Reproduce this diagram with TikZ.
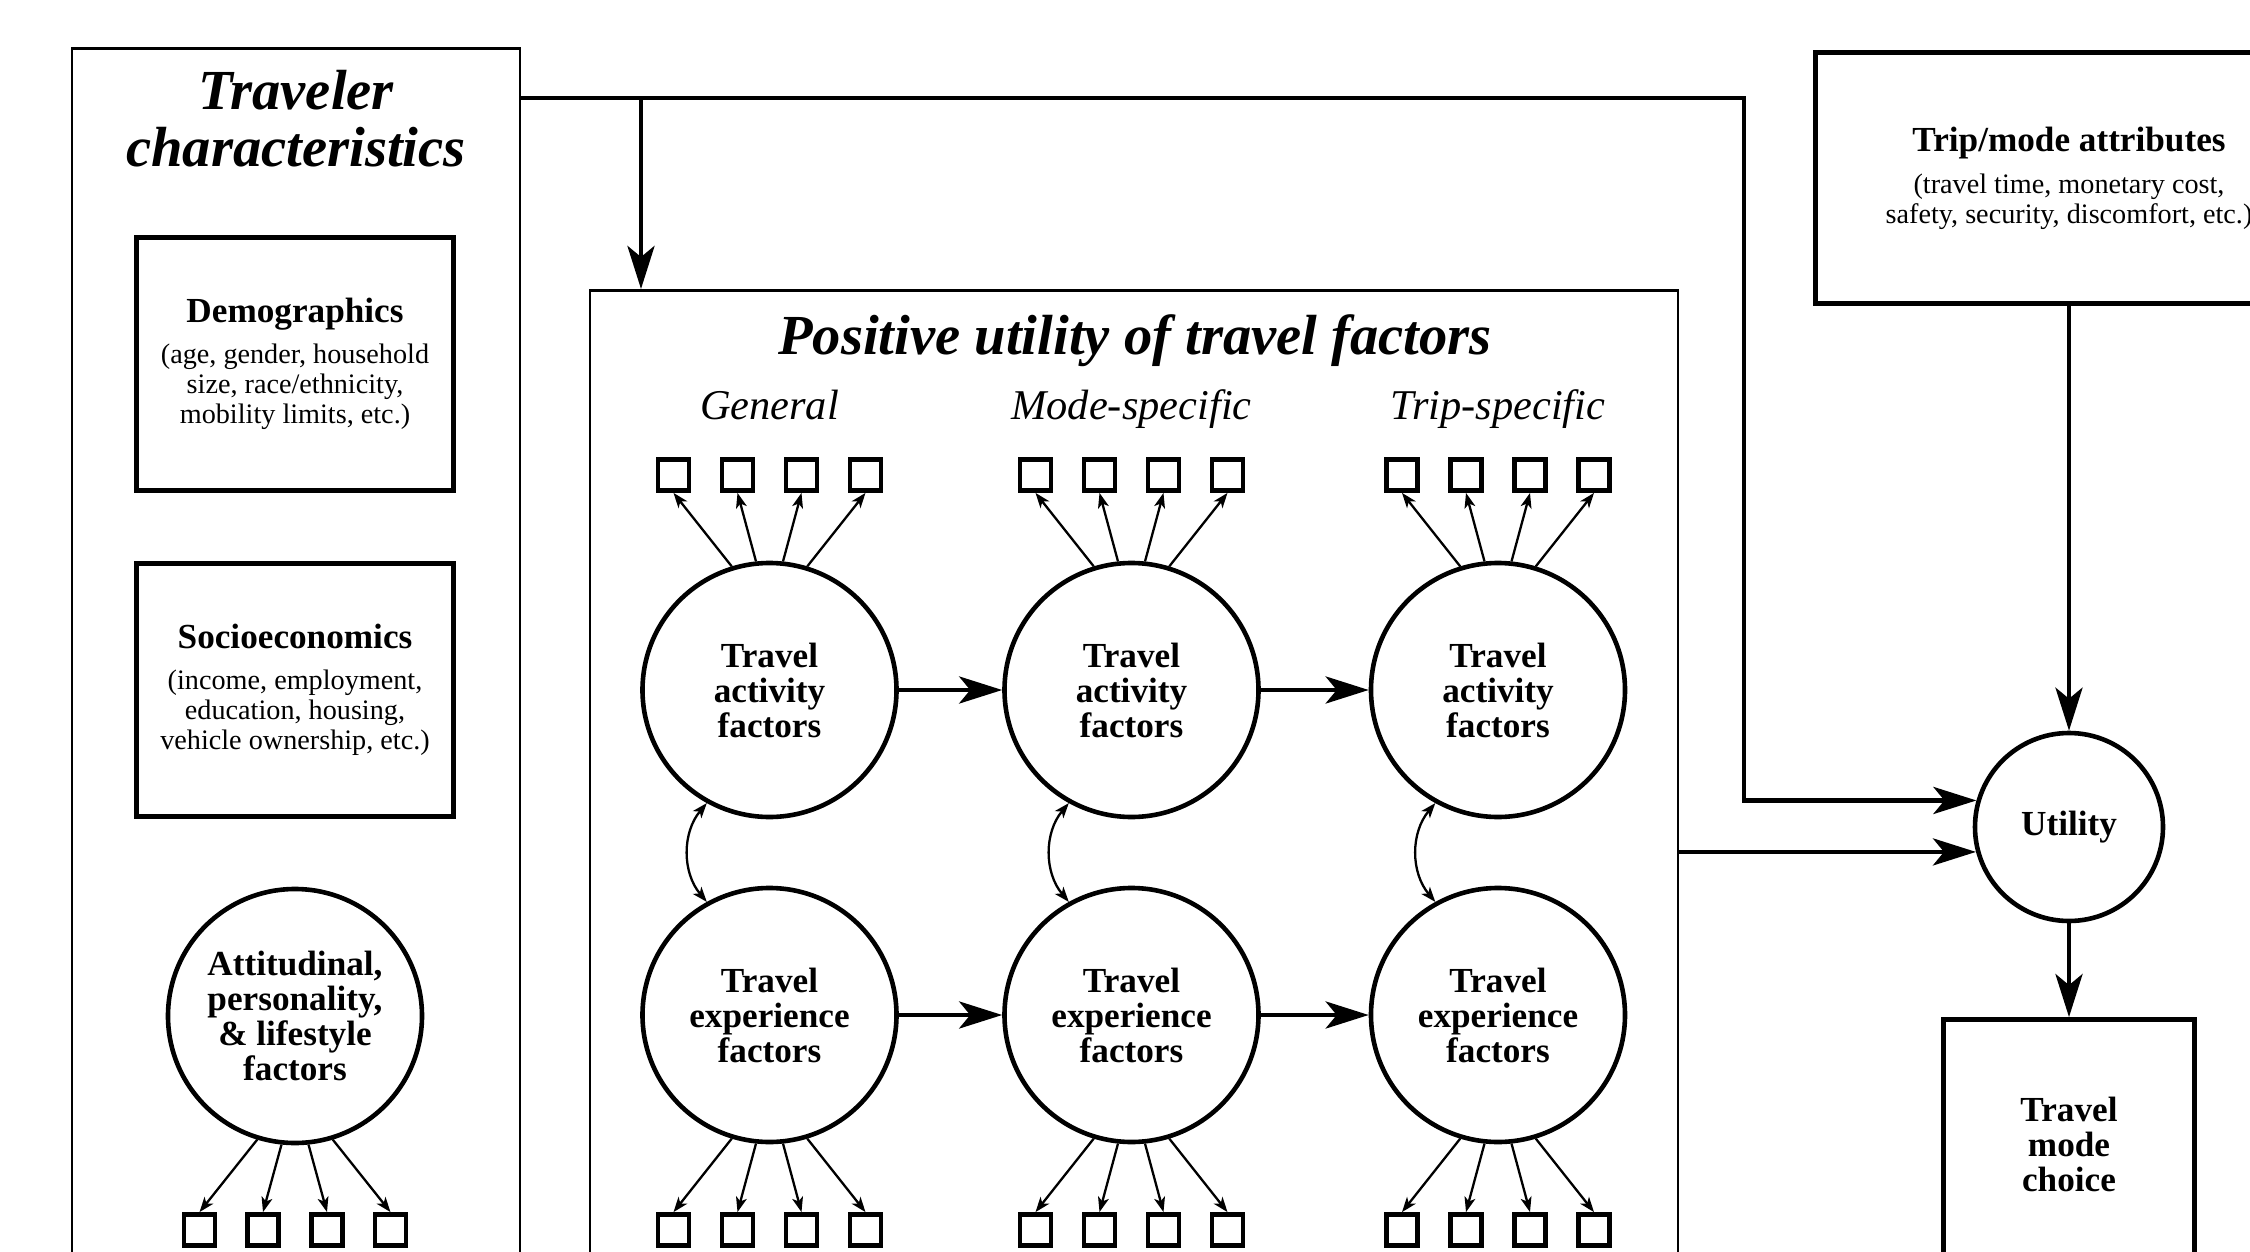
\documentclass[tikz,border=0pt]{standalone}
\usepackage{fontspec}
\setmainfont{Liberation Serif}
\usetikzlibrary{arrows.meta}
\newcommand\fbigtitle{\fontsize{28.3}{28.5}\selectfont\bfseries\itshape}
\newcommand\fsubhead{\fontsize{21.2}{22}\selectfont\itshape}
\newcommand\flabel{\fontsize{17.6}{17.5}\selectfont\bfseries}
\newcommand\fdescr{\fontsize{14.1}{14.8}\selectfont}
\begin{document}
\begin{tikzpicture}[x=0.5pt,y=-0.5pt,
  outerbox/.style={draw, line width=1.3pt, inner sep=0pt},
  infobox/.style={draw, line width=2.4pt, inner sep=0pt, align=center},
  latent/.style={circle, draw, line width=2.3pt, minimum size=127pt, inner sep=0pt, align=center, font=\flabel},
  indsq/.style={draw, line width=2.4pt, minimum size=15.5pt, inner sep=0pt},
  loadarrow/.style={line width=1.15pt, -{Stealth[length=7.5pt,width=5.5pt,inset=2pt]}},
  corrarrow/.style={line width=1.15pt, {Stealth[length=7.5pt,width=5.5pt,inset=2pt]}-{Stealth[length=7.5pt,width=5.5pt,inset=2pt]}},
  conn/.style={line width=2.4pt, -{Stealth[length=21.5pt,width=13.5pt,inset=5.5pt]}},
  labtext/.style={font=\flabel, inner sep=0pt},
  desctext/.style={font=\fdescr, align=center, inner sep=0pt},
  bigtitle/.style={font=\fbigtitle, align=center, inner sep=0pt},
  subhead/.style={font=\fsubhead, inner sep=0pt}]
\path[use as bounding box] (0,0) rectangle (2250,1252);
\clip (0,0) rectangle (2250,1252);

% ---------- Traveler characteristics ----------
\node[outerbox, anchor=north, minimum width=224pt, minimum height=630pt] (trav) at (296,47) {};
\node[bigtitle, anchor=base] (travtitle) at (296,167) {Traveler\\characteristics};

\node[infobox, minimum width=158.5pt, minimum height=126.5pt] (demo) at (295,364) {};
\node[labtext, anchor=base] (demot) at (295,322) {Demographics};
\node[desctext, anchor=base] (demod) at (295,423) {(age, gender, household\\size, race/ethnicity,\\mobility limits, etc.)};

\node[infobox, minimum width=158.5pt, minimum height=126.5pt] (socio) at (295,690) {};
\node[labtext, anchor=base] (sociot) at (295,648) {Socioeconomics};
\node[desctext, anchor=base] (sociod) at (295,749) {(income, employment,\\education, housing,\\vehicle ownership, etc.)};

\node[latent] (att) at (295,1016) {Attitudinal,\\personality,\\\& lifestyle\\factors};
\foreach \k/\dx/\ang in {1/-95.5/253,2/-32/264,3/32/276,4/95.5/287}{
  \node[indsq] (att-\k) at (295+\dx,1230) {};
  \draw[loadarrow] (att.\ang) -- (att-\k.north);
}

% ---------- Positive utility of travel factors ----------
\node[outerbox, anchor=north, minimum width=544pt, minimum height=510pt] (pos) at (1134,289) {};
\node[bigtitle, anchor=base] (postitle) at (1135,354) {Positive utility of travel factors};

\foreach \c/\x/\name in {1/769.5/General,2/1131.5/Mode-specific,3/1498/Trip-specific}{
  \node[subhead, anchor=base] (sub\c) at (\x,419) {\name};
  \node[latent] (act\c) at (\x,690) {Travel\\activity\\factors};
  \node[latent] (exp\c) at (\x,1015) {Travel\\experience\\factors};
  \foreach \k/\dx/\ang in {1/-96/107,2/-32/96,3/32/84,4/96/73}{
    \node[indsq] (act\c-\k) at (\x+\dx,475) {};
    \draw[loadarrow] (act\c.\ang) -- (act\c-\k.south);
  }
  \foreach \k/\dx/\ang in {1/-96/253,2/-32/264,3/32/276,4/96/287}{
    \node[indsq] (exp\c-\k) at (\x+\dx,1230) {};
    \draw[loadarrow] (exp\c.\ang) -- (exp\c-\k.north);
  }
  \draw[corrarrow] (act\c.241) to[bend right=40] (exp\c.119);
}
\draw[conn] (act1.east) -- (act2.west);
\draw[conn] (act2.east) -- (act3.west);
\draw[conn] (exp1.east) -- (exp2.west);
\draw[conn] (exp2.east) -- (exp3.west);

% ---------- Right side ----------
\node[infobox, minimum width=253.5pt, minimum height=125.5pt] (trip) at (2069,178) {};
\node[labtext, anchor=base] (tript) at (2069,152) {Trip/mode attributes};
\node[desctext, anchor=base] (tripd) at (2069,223) {(travel time, monetary cost,\\safety, security, discomfort, etc.)};

\node[latent, minimum size=94pt] (util) at (2069,827) {Utility};
\node[infobox, font=\flabel, minimum width=125.5pt, minimum height=124.5pt] (choice) at (2069,1144) {Travel\\mode\\choice};

% ---------- Connectors ----------
\coordinate (j1) at (641,98);
\coordinate (c1) at (1744,98);
\draw[conn] (trav.east |- j1) -- (c1) |- (util.164);
\draw[conn] (j1) -- (j1 |- pos.north);
\draw[conn] (pos.east |- util.195) -- (util.195);
\draw[conn] (trip.south) -- (util.north);
\draw[conn] (util.south) -- (choice.north);
\end{tikzpicture}
\end{document}
